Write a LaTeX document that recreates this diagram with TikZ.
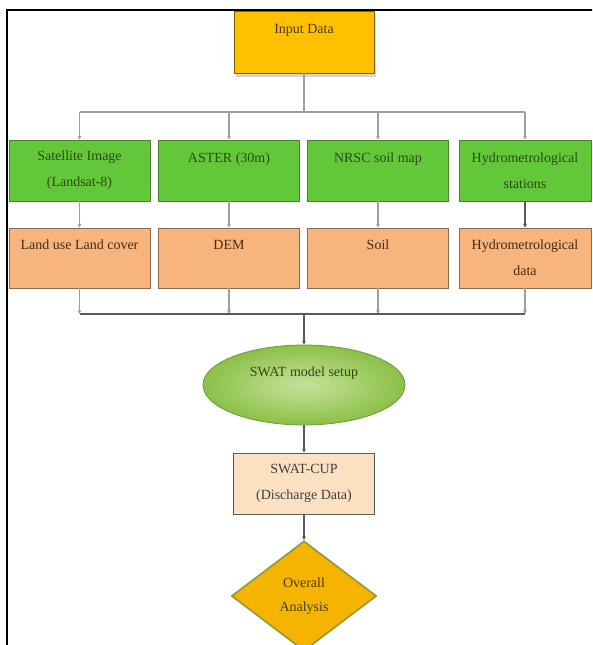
\documentclass[tikz,border=0pt]{standalone}
\usepackage{fontspec}
\setmainfont{Liberation Serif}
\usetikzlibrary{shapes.geometric,arrows.meta,shadows}
\definecolor{gold}{HTML}{FFC000}
\definecolor{goldline}{HTML}{7F6000}
\definecolor{grn}{HTML}{62C83A}
\definecolor{grnline}{HTML}{4E7F2E}
\definecolor{peach}{HTML}{F7B47C}
\definecolor{peachline}{HTML}{8A6A50}
\definecolor{cupfill}{HTML}{FBE0C2}
\definecolor{txtgold}{HTML}{4A3A00}
\definecolor{txtgrn}{HTML}{2C4A12}
\definecolor{txtpch}{HTML}{4A2A12}
\definecolor{dia}{HTML}{F5B400}
\definecolor{dialine}{HTML}{8C9A3A}
\definecolor{ellin}{HTML}{C6E29A}
\definecolor{ellout}{HTML}{8CC048}
\definecolor{ellline}{HTML}{6E9A36}
\begin{document}
\begin{tikzpicture}[x=1pt,y=-1pt,
  base/.style={draw, line width=0.8pt, align=center, inner sep=0pt,
     font=\fontsize{14}{26}\selectfont},
  inbox/.style={base, fill=gold, draw=goldline, text=txtgold,
     minimum width=140pt, minimum height=62pt,
     drop shadow={shadow xshift=2pt, shadow yshift=-4pt, fill=gray!55, opacity=0.6}},
  gbox/.style={base, fill=grn, draw=grnline, text=txtgrn,
     minimum width=141pt, minimum height=61pt},
  obox/.style={base, fill=peach, draw=peachline, text=txtpch,
     minimum width=141pt, minimum height=60pt},
  conn/.style={line width=1.1pt, draw=gray!75},
  dconn/.style={line width=1.1pt, draw=black!65},
  arr/.style={-{Stealth[length=4pt,width=4pt]}},
]
\useasboundingbox (0,0) rectangle (592,645);
\clip (0,0) rectangle (592,645);
% frame
\draw[line width=1.5pt] (7,650) -- (7,10) -- (600,10);

% top
\node[inbox] (in) at (304,42) {Input Data\\\mbox{}};

% green row
\node[gbox] (g1) at (79.5,170.5) {Satellite Image\\(Landsat-8)};
\node[gbox] (g2) at (229,170.5) {ASTER (30m)\\\mbox{}};
\node[gbox] (g3) at (378,170.5) {NRSC soil map\\\mbox{}};
\node[gbox, minimum width=132pt] (g4) at (525,170.5) {Hydrometrological\\stations};

% orange row
\node[obox] (o1) at (79.5,258) {Land use Land cover\\\mbox{}};
\node[obox] (o2) at (229,258) {DEM\\\mbox{}};
\node[obox] (o3) at (378,258) {Soil\\\mbox{}};
\node[obox, minimum width=132pt] (o4) at (525,258) {Hydrometrological\\data};

% ellipse
\node[ellipse, draw=ellline, line width=0.8pt, inner color=ellin, outer color=ellout,
  minimum width=202pt, minimum height=80pt, inner sep=0pt, text=txtgrn,
  font=\fontsize{14}{26}\selectfont, align=center] (swat) at (304,385) {SWAT model setup\\\mbox{}};

% SWAT-CUP
\node[base, fill=cupfill, draw=gray!70!black, text=black!75,
  minimum width=141pt, minimum height=61pt] (cup) at (304,483.5)
  {SWAT-CUP\\(Discharge Data)};

% diamond
\node[diamond, draw=dialine, line width=1.6pt, fill=dia, text=txtgold,
  minimum width=145pt, minimum height=110pt, inner sep=0pt,
  font=\fontsize{14}{24}\selectfont, align=center] (ov) at (304,596) {Overall\\Analysis};

% bus coordinates
\coordinate (bus1) at (304,112);
\coordinate (bus2) at (304,314);

% top connectors
\draw[conn] (in.south) -- (bus1);
\draw[conn] (g1.north |- bus1) -- (g4.north |- bus1);
\foreach \g in {g1,g2,g3,g4} \draw[conn,arr] (\g.north |- bus1) -- (\g.north);
% green -> orange
\draw[conn,arr] (g1.south) -- (o1.north);
\draw[conn,arr] (g2.south) -- (o2.north);
\draw[conn,arr] (g3.south) -- (o3.north);
\draw[dconn,arr] (g4.south) -- (o4.north);
% orange -> bus2
\foreach \o in {o1,o2,o3,o4} \draw[conn,arr] (\o.south) -- (\o.south |- bus2);
\draw[dconn] (o1.south |- bus2) -- (o4.south |- bus2);
\draw[dconn,arr] (bus2) -- (swat.north);
\draw[dconn,arr] (swat.south) -- (cup.north);
\draw[dconn,arr] (cup.south) -- (ov.north);
\end{tikzpicture}
\end{document}
